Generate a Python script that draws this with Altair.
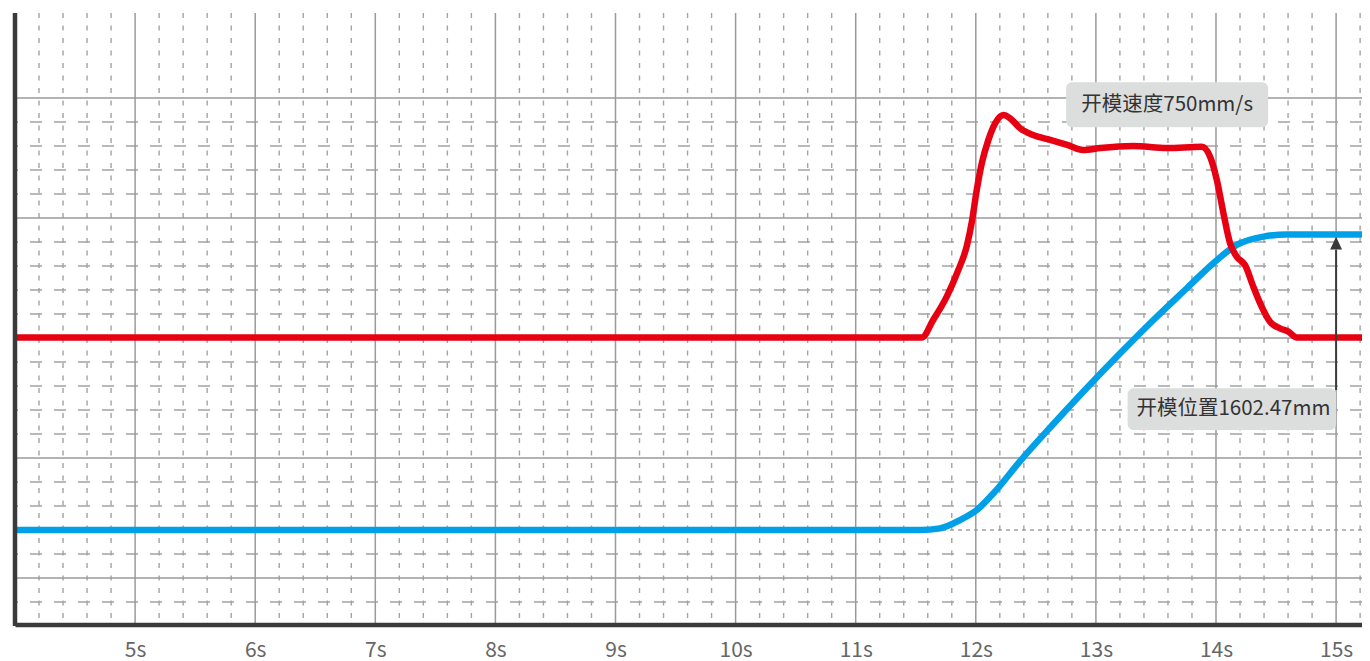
import altair as alt
import pandas as pd

# ---- data ----
# opening speed (mm/s) over time (s)
speed_t = [4.0, 11.55, 11.645, 11.758, 11.855, 11.925, 11.967, 12.008, 12.05, 12.105,
           12.161, 12.23, 12.286, 12.369, 12.477, 12.619, 12.761, 12.894, 13.036, 13.31,
           13.593, 13.882, 13.951, 14.007, 14.062, 14.117, 14.173, 14.242, 14.311, 14.381,
           14.45, 14.533, 14.603, 14.673, 15.4]
speed_v = [0, 0, 69, 161, 266, 360, 455, 581, 686, 778,
           843, 876, 863, 824, 797, 778, 758, 738, 746, 754,
           746, 751, 712, 620, 489, 371, 318, 285, 200, 121,
           62, 36, 23, 0, 0]
# opening position (mm) over time (s)
pos_t = [4.0, 11.536, 11.702, 11.869, 12.008, 12.147, 12.369, 12.646, 12.924, 13.202,
         13.479, 13.757, 13.978, 14.173, 14.395, 14.589, 15.4]
pos_v = [0, 0, 9, 54, 108, 199, 374, 575, 770, 958,
         1139, 1311, 1447, 1546, 1591, 1602.47, 1602.47]

x_ticks = [5, 6, 7, 8, 9, 10, 11, 12, 13, 14, 15]
grid_major_x = [5, 6, 7, 8, 9, 10, 11, 12, 13, 14, 15]
grid_minor_x = [round(4 + 0.2 * i, 1) for i in range(1, 57) if i % 5 != 0]
grid_major_y = [2, 7, 12, 17, 22]
grid_minor_y = [1, 3, 5, 6, 8, 9, 10, 11, 13, 14, 15, 16, 18, 19, 20, 21]
grid_fine_y = [4]

speed_label = "开模速度750mm/s"
pos_label = "开模位置1602.47mm"

# ---- scales ----
T_DOM = [4.0, 15.2157]
W = 1347
H = 613
SPEED_DOM = [-1135.8, 1277.6]
POS_DOM = [-520.6, 2803.7]
GRID_DOM = [0, 25.542]
FONT = "Noto Sans CJK SC"

xs = alt.Scale(domain=T_DOM, nice=False, zero=False)
x_axis = alt.Axis(values=x_ticks, labelExpr="datum.value + 's'", ticks=False, tickSize=0,
                  grid=False, domainColor="#3a3a3a", domainWidth=4.5, labelFontSize=21,
                  labelColor="#666666", labelFont=FONT, labelPadding=14.5, title=None,
                  zindex=1, offset=-1.5, labelOverlap=False)


def X(field):
    return alt.X(field, type="quantitative", scale=xs, axis=x_axis)


def Y(field, dom):
    return alt.Y(field, type="quantitative", scale=alt.Scale(domain=dom, nice=False, zero=False), axis=None)


speed_df = pd.DataFrame({"t": speed_t, "v": speed_v})
pos_df = pd.DataFrame({"t": pos_t, "v": pos_v})

vmaj = alt.Chart(pd.DataFrame({"t": grid_major_x})).mark_rule(
    color="#9a9a9a", strokeWidth=1.5).encode(x=X("t"))
vmin = alt.Chart(pd.DataFrame({"t": grid_minor_x})).mark_rule(
    color="#a3a3a3", strokeWidth=1.4, strokeDash=[5, 7.5]).encode(x=X("t"))
hmaj = alt.Chart(pd.DataFrame({"u": grid_major_y})).mark_rule(
    color="#9a9a9a", strokeWidth=1.5).encode(y=Y("u", GRID_DOM))
hmin = alt.Chart(pd.DataFrame({"u": grid_minor_y})).mark_rule(
    color="#a3a3a3", strokeWidth=1.4, strokeDash=[12, 12]).encode(y=Y("u", GRID_DOM))
hfine = alt.Chart(pd.DataFrame({"u": grid_fine_y})).mark_rule(
    color="#a3a3a3", strokeWidth=1.4, strokeDash=[4, 4]).encode(y=Y("u", GRID_DOM))

blue = alt.Chart(pos_df).mark_line(
    color="#00a0e9", strokeWidth=6.5, interpolate="monotone", clip=True
).encode(x=X("t"), y=Y("v", POS_DOM))
red = alt.Chart(speed_df).mark_line(
    color="#e60012", strokeWidth=6.5, interpolate="monotone", clip=True
).encode(x=X("t"), y=Y("v", SPEED_DOM))

arrow_df = pd.DataFrame({"t": [15.0], "v0": [759.0], "v1": [1518.0], "head": [1553.7]})
arrow_line = alt.Chart(arrow_df).mark_rule(color="#3a3a3a", strokeWidth=2).encode(
    x=X("t"), y=Y("v0", POS_DOM), y2="v1")
arrow_head = alt.Chart(arrow_df).mark_point(
    shape="M-1,1L0,-1.15L1,1Z", filled=True, color="#3a3a3a", opacity=1, size=140
).encode(x=X("t"), y=Y("head", POS_DOM))

box1_df = pd.DataFrame({"x0": [12.752], "x1": [14.434], "y0": [827.6], "y1": [1004.7],
                        "tx": [13.593], "ty": [916.0], "label": [speed_label]})
box2_df = pd.DataFrame({"x0": [13.264], "x1": [15.0], "y0": [542.3], "y1": [768.4],
                        "tx": [14.145], "ty": [655.0], "label": [pos_label]})

box1 = alt.Chart(box1_df).mark_rect(color="#dcdddd", cornerRadius=6).encode(
    x=X("x0"), x2="x1", y=Y("y0", SPEED_DOM), y2="y1")
box2 = alt.Chart(box2_df).mark_rect(color="#dcdddd", cornerRadius=6).encode(
    x=X("x0"), x2="x1", y=Y("y0", POS_DOM), y2="y1")
text1 = alt.Chart(box1_df).mark_text(font=FONT, fontSize=20.5, color="#333333",
                                     align="center", baseline="middle").encode(
    x=X("tx"), y=Y("ty", SPEED_DOM), text="label")
text2 = alt.Chart(box2_df).mark_text(font=FONT, fontSize=20.5, color="#333333",
                                     align="center", baseline="middle").encode(
    x=X("tx"), y=Y("ty", POS_DOM), text="label")

left_axis = alt.Chart(pd.DataFrame({"t": [4.0]})).mark_rule(
    color="#3a3a3a", strokeWidth=4.5).encode(x=X("t"))

chart = alt.layer(
    vmin, hmin, hfine, vmaj, hmaj, blue, red, arrow_line, arrow_head,
    box1, box2, text1, text2, left_axis
).resolve_scale(y="independent").properties(
    width=W, height=H,
    autosize=alt.AutoSizeParams(type="none"),
    padding={"left": 7, "top": 5, "right": 0, "bottom": 40},
    background="white",
).configure_view(stroke=None)

chart.save("out.html", embed_options={"renderer": "svg", "actions": False})
